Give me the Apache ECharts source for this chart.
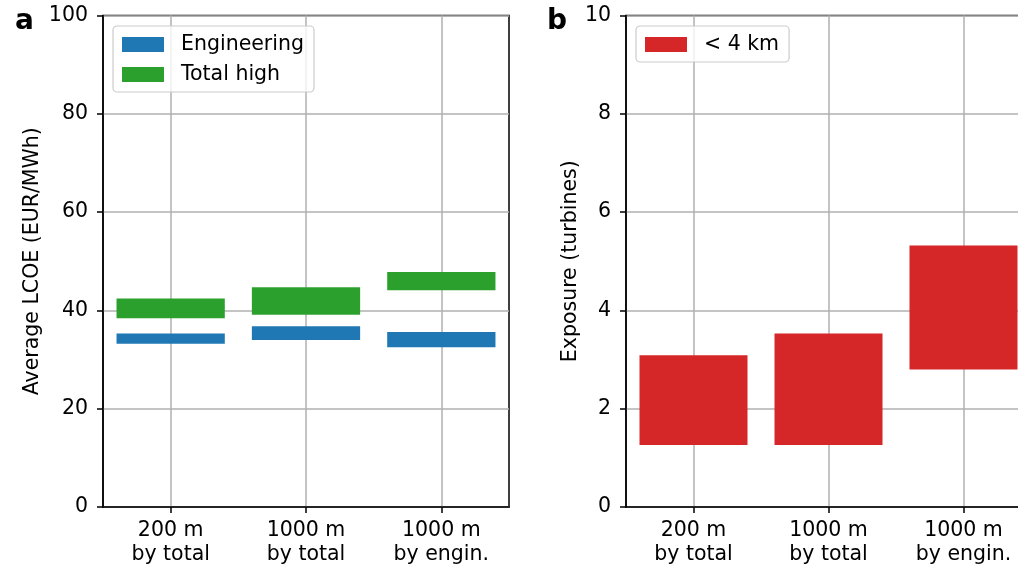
<!DOCTYPE html>
<html>
<head>
<meta charset="utf-8">
<script src="https://cdn.jsdelivr.net/npm/echarts@6/dist/echarts.min.js"></script>
<style>html,body{margin:0;padding:0;background:#fff}#c{width:1018px;height:566px}</style>
</head>
<body>
<div id="c"></div>
<script>
const categories = ['200 m\nby total', '1000 m\nby total', '1000 m\nby engin.'];
const engLow = [33.2, 34.0, 32.5];
const engHigh = [35.3, 36.8, 35.6];
const totalLow = [38.4, 39.1, 44.1];
const totalHigh = [42.4, 44.7, 47.8];
const expLow = [1.26, 1.26, 2.80];
const expHigh = [3.09, 3.53, 5.32];
const lcoeTicks = [0, 100, 20];
const expTicks = [0, 10, 2];

const FONT = 'DejaVu Sans';
const FS = 20.5;
const BLUE = '#1f77b4', GREEN = '#2ca02c', RED = '#d62728';

function rangeData(lo, hi) { return lo.map((v, i) => [i, v, hi[i]]); }
function renderRange(params, api) {
  const x = api.value(0);
  const p0 = api.coord([x, api.value(1)]);
  const p1 = api.coord([x, api.value(2)]);
  const w = api.size([1, 0])[0] * 0.8;
  return {
    type: 'rect',
    shape: { x: p0[0] - w / 2, y: p1[1], width: w, height: p0[1] - p1[1] },
    style: { fill: api.visual('color') }
  };
}

const gridLine = { show: true, alignWithLabel: true, lineStyle: { color: '#b0b0b0', width: 1.5 } };
function xAxis(gi) {
  return {
    type: 'category', gridIndex: gi, data: categories, boundaryGap: true,
    axisLine: { show: true, lineStyle: { color: '#000', width: 1.5 } },
    axisTick: { show: true, alignWithLabel: true, length: 6, lineStyle: { color: '#000', width: 1.5 } },
    axisLabel: { color: '#000', fontFamily: FONT, fontSize: FS, lineHeight: 24, margin: 12, interval: 0 },
    splitLine: gridLine
  };
}
function yAxis(gi, t, name, gap) {
  return {
    type: 'value', gridIndex: gi, min: t[0], max: t[1], interval: t[2],
    name: name, nameLocation: 'middle', nameGap: gap,
    nameTextStyle: { color: '#000', fontFamily: FONT, fontSize: FS },
    axisLine: { show: true, lineStyle: { color: '#000', width: 1.5 } },
    axisTick: { show: true, length: 6, lineStyle: { color: '#000', width: 1.5 } },
    axisLabel: { color: '#000', fontFamily: FONT, fontSize: FS, margin: 15, padding: [2, 0, 0, 0] },
    splitLine: { show: true, lineStyle: { color: '#b0b0b0', width: 1.5 } }
  };
}
const legendCommon = {
  orient: 'vertical', itemWidth: 42, itemHeight: 15, itemGap: 9,
  backgroundColor: 'rgba(255,255,255,0.8)', borderColor: '#cccccc', borderWidth: 1.2, borderRadius: 4,
  padding: [8, 10, 7, 9],
  textStyle: { color: '#000', fontFamily: FONT, fontSize: FS, lineHeight: 21, padding: [0, 0, 0, 12] }
};

const chart = echarts.init(document.getElementById('c'), null, { renderer: 'canvas' });
chart.setOption({
  animation: false,
  grid: [
    { left: 103, top: 15.5, width: 406, height: 491.5, show: true, borderColor: '#000', borderWidth: 1.5, backgroundColor: 'transparent', outerBoundsMode: 'none', containLabel: false },
    { left: 626, top: 15.5, width: 405, height: 491.5, show: true, borderColor: '#000', borderWidth: 1.5, backgroundColor: 'transparent', outerBoundsMode: 'none', containLabel: false }
  ],
  xAxis: [xAxis(0), xAxis(1)],
  yAxis: [yAxis(0, lcoeTicks, 'Average LCOE (EUR/MWh)', 60), yAxis(1, expTicks, 'Exposure (turbines)', 42)],
  legend: [
    Object.assign({}, legendCommon, { left: 113, top: 26, data: [{ name: 'Engineering', icon: 'rect' }, { name: 'Total high', icon: 'rect' }] }),
    Object.assign({}, legendCommon, { left: 636, top: 26, data: [{ name: '< 4 km', icon: 'rect' }] })
  ],
  graphic: [
    { type: 'text', left: 15, top: 8, style: { text: 'a', font: 'bold 28px "DejaVu Sans"', fill: '#000' } },
    { type: 'text', left: 547, top: 8, style: { text: 'b', font: 'bold 28px "DejaVu Sans"', fill: '#000' } }
  ],
  series: [
    { name: 'Engineering', type: 'custom', xAxisIndex: 0, yAxisIndex: 0, itemStyle: { color: BLUE }, renderItem: renderRange, data: rangeData(engLow, engHigh), encode: { x: 0, y: [1, 2] } },
    { name: 'Total high', type: 'custom', xAxisIndex: 0, yAxisIndex: 0, itemStyle: { color: GREEN }, renderItem: renderRange, data: rangeData(totalLow, totalHigh), encode: { x: 0, y: [1, 2] } },
    { name: '< 4 km', type: 'custom', xAxisIndex: 1, yAxisIndex: 1, itemStyle: { color: RED }, renderItem: renderRange, data: rangeData(expLow, expHigh), encode: { x: 0, y: [1, 2] } }
  ]
});
</script>
</body>
</html>
